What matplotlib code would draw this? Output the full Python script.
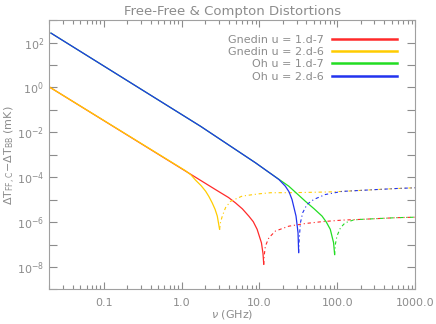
import numpy as np
import matplotlib
matplotlib.use("Agg")
import matplotlib.pyplot as plt
from matplotlib.lines import Line2D
from matplotlib.ticker import FixedLocator, NullFormatter

# values (GHz, mK); "pos" = solid part, "neg" = dash-dot part
labels = ["Gnedin u = 1.d-7", "Gnedin u = 2.d-6", "Oh u = 1.d-7", "Oh u = 2.d-6"]
colors = ["#ff2a2a", "#ffcc00", "#22dd22", "#2233ee"]

gn1_pos_nu = [0.0204, 2.73, 4.0, 4.92, 6.03, 7.29, 8.32, 9.33, 10.6, 11.1, 11.35]
gn1_pos_val = [1.0, 2.8e-5, 1.25e-5, 7.2e-6, 3.9e-6, 1.86e-6, 1.05e-6, 4.8e-7, 1.2e-7, 4.0e-8, 1.32e-8]
gn1_neg_nu = [11.35, 11.5, 11.9, 13.2, 16.0, 23.8, 38.9, 63.7, 115, 195, 575, 1000]
gn1_neg_val = [1.32e-8, 3.2e-8, 8.5e-8, 2.0e-7, 4.0e-7, 6.6e-7, 8.7e-7, 1.05e-6, 1.23e-6, 1.32e-6, 1.58e-6, 1.66e-6]

gn2_pos_nu = [0.0204, 1.12, 1.32, 1.51, 1.78, 2.03, 2.24, 2.47, 2.69, 2.87, 3.07]
gn2_pos_val = [1.0, 1.95e-4, 1.26e-4, 7.4e-5, 4.2e-5, 2.4e-5, 1.38e-5, 7.2e-6, 3.7e-6, 1.86e-6, 4.8e-7]
gn2_neg_nu = [3.07, 3.16, 3.33, 3.66, 4.25, 6.0, 9.8, 13.8, 27.5, 74.1, 115, 214, 589, 1000]
gn2_neg_val = [4.8e-7, 1.0e-6, 1.86e-6, 4.4e-6, 8.5e-6, 1.45e-5, 1.82e-5, 2.04e-5, 2.06e-5, 2.2e-5, 2.34e-5, 2.63e-5, 3.16e-5, 3.39e-5]

oh1_pos_nu = [0.0209, 1.75, 8.89, 13.2, 23.8, 38.9, 50.1, 63.7, 72.4, 81.3, 89.7, 92.5]
oh1_pos_val = [263, 0.0186, 4.4e-4, 1.66e-4, 4.0e-5, 8.5e-6, 4.0e-6, 1.86e-6, 1.0e-6, 4.8e-7, 1.2e-7, 3.6e-8]
oh1_neg_nu = [92.5, 94.4, 99.1, 110, 126, 162, 195, 575, 1000]
oh1_neg_val = [3.6e-8, 1.0e-7, 2.4e-7, 5.6e-7, 9.3e-7, 1.25e-6, 1.32e-6, 1.58e-6, 1.66e-6]

oh2_pos_nu = [0.0209, 1.75, 8.89, 14.5, 17.8, 21.5, 24.0, 26.2, 29.5, 31.3, 31.9]
oh2_pos_val = [263, 0.0186, 4.4e-4, 1.32e-4, 7.9e-5, 4.0e-5, 2.24e-5, 1.02e-5, 1.86e-6, 3.39e-7, 4.4e-8]
oh2_neg_nu = [31.9, 32.4, 33.6, 35.9, 40.9, 49.8, 70.1, 115, 214, 589, 1000]
oh2_neg_val = [4.4e-8, 1.7e-7, 9.3e-7, 2.6e-6, 6.2e-6, 1.02e-5, 1.7e-5, 2.34e-5, 2.63e-5, 3.16e-5, 3.39e-5]

xticks = [0.1, 1.0, 10.0, 100.0, 1000.0]
xticklabels = ["0.1", "1.0", "10.0", "100.0", "1000.0"]
yticks = [1e2, 1e0, 1e-2, 1e-4, 1e-6, 1e-8]
yticklabels = ["$10^{2}$", "$10^{0}$", "$10^{-2}$", "$10^{-4}$", "$10^{-6}$", "$10^{-8}$"]

grey = "#8c8c8c"
plt.rcParams["font.family"] = ["DejaVu Sans"]

fig = plt.figure(figsize=(4.36, 3.24), dpi=100)
ax = fig.add_axes([0.1135, 0.1065, 0.8385, 0.8315])

curves = [(gn1_pos_nu, gn1_pos_val, gn1_neg_nu, gn1_neg_val),
          (gn2_pos_nu, gn2_pos_val, gn2_neg_nu, gn2_neg_val),
          (oh1_pos_nu, oh1_pos_val, oh1_neg_nu, oh1_neg_val),
          (oh2_pos_nu, oh2_pos_val, oh2_neg_nu, oh2_neg_val)]
dashdot = (0, (3, 2.5, 1, 2.5))
for (pn, pv, nn, nv), c in zip(curves, colors):
    ax.plot(pn, pv, color=c, lw=0.9)
    ax.plot(nn, nv, color=c, lw=0.8, linestyle=dashdot)

ax.set_xscale("log")
ax.set_yscale("log")
ax.set_xlim(0.02, 1000)
ax.set_ylim(1e-9, 1e3)

ax.xaxis.set_major_locator(FixedLocator(xticks))
ax.set_xticklabels(xticklabels)
ax.xaxis.set_minor_locator(FixedLocator(
    [m * 10.0 ** e for e in range(-2, 3) for m in range(2, 10) if 0.02 <= m * 10.0 ** e <= 1000]))
ax.yaxis.set_major_locator(FixedLocator(yticks))
ax.set_yticklabels(yticklabels)
ax.yaxis.set_minor_locator(FixedLocator([10.0 ** e for e in range(-9, 4, 2)]))
ax.yaxis.set_minor_formatter(NullFormatter())

ax.tick_params(which="both", direction="in", top=True, right=True, colors=grey,
               labelcolor=grey, labelsize=8, width=0.8)
ax.tick_params(axis="x", which="major", length=5, pad=6)
ax.tick_params(axis="x", which="minor", length=3)
ax.tick_params(axis="y", which="both", length=6, pad=4)
for s in ax.spines.values():
    s.set_color("#a0a0a0")
    s.set_linewidth(0.8)

ax.set_title("Free-Free & Compton Distortions", color=grey, fontsize=9.5, pad=4)
ax.set_xlabel(r"$\nu$ (GHz)", color=grey, fontsize=8, labelpad=0)
ax.set_ylabel(r"$\Delta$T$_{\rm FF,C}$$-$$\Delta$T$_{\rm BB}$ (mK)", color=grey, fontsize=8)
ax.yaxis.set_label_coords(-0.087, 0.5)

handles = [Line2D([], [], color=c, lw=1.8) for c in colors]
leg = ax.legend(handles, labels, loc="upper right", bbox_to_anchor=(0.951, 0.945),
                frameon=False, markerfirst=False, fontsize=8, handlelength=5.9,
                handletextpad=0.7, labelspacing=0.2, borderpad=0, borderaxespad=0)
for t in leg.get_texts():
    t.set_color(grey)

fig.savefig("out.png", dpi=100)
